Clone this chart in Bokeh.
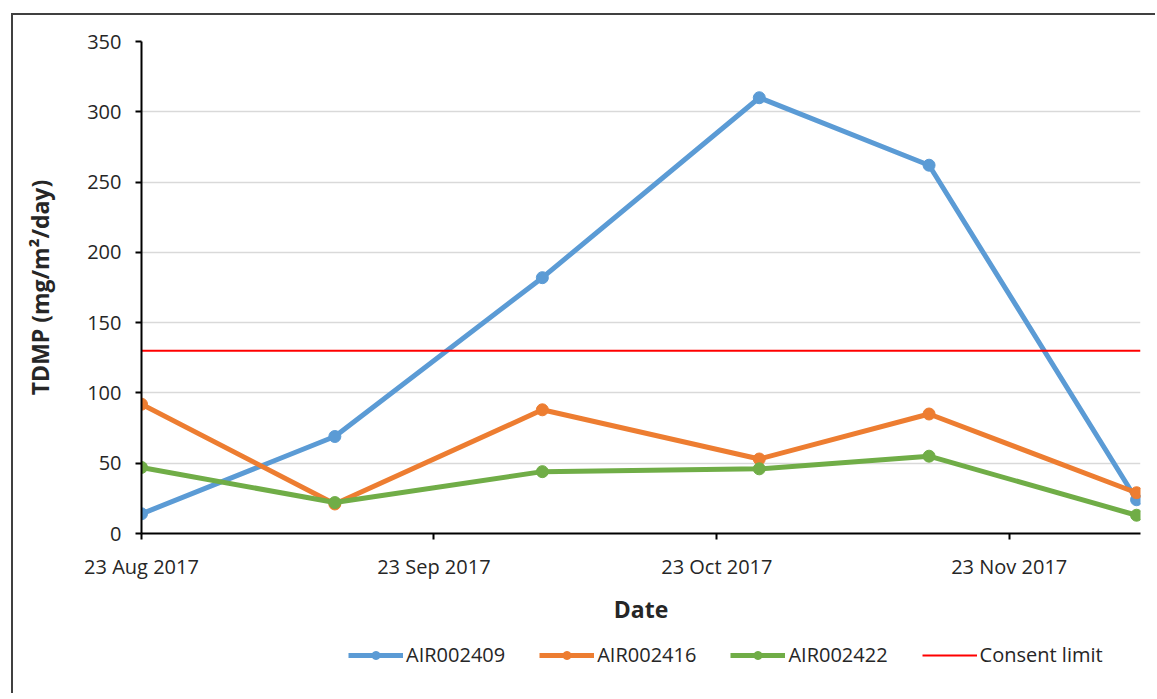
import datetime as dt
from bokeh.plotting import figure
from bokeh.layouts import column
from bokeh.models import (Range1d, FixedTicker, DatetimeTickFormatter, Legend, LegendItem)
from bokeh.embed import file_html
from bokeh.resources import INLINE

dates = ["2017-08-23 00:00", "2017-09-12 12:00", "2017-10-04 12:00",
         "2017-10-27 12:00", "2017-11-14 12:00", "2017-12-06 12:00"]
air002409 = [14, 69, 182, 310, 262, 24]
air002416 = [92, 21, 88, 53, 85, 29]
air002422 = [47, 22, 44, 46, 55, 13]
consent_limit = 130
tick_dates = ["2017-08-23 00:00", "2017-09-23 00:00", "2017-10-23 00:00", "2017-11-23 00:00"]
y_ticks = [0, 50, 100, 150, 200, 250, 300, 350]
x_start, x_end = "2017-08-23 00:00", "2017-12-06 22:00"

def to_dt(s):
    return dt.datetime.strptime(s, "%Y-%m-%d %H:%M")

def to_ms(s):
    return (to_dt(s) - dt.datetime(1970, 1, 1)).total_seconds() * 1000.0

xs = [to_dt(d) for d in dates]

TXT = "#262626"
BORDER = "2px solid #404040"

# ---------------- main chart ----------------
p = figure(width=1144, height=620, output_backend="svg", toolbar_location=None,
           x_axis_type="datetime",
           x_range=Range1d(to_dt(x_start), to_dt(x_end)),
           y_range=Range1d(0, 350),
           min_border_left=128, min_border_right=17, min_border_top=26, min_border_bottom=102,
           styles={"margin-left": "11px", "margin-top": "13px",
                   "border-left": BORDER, "border-top": BORDER})
p.outline_line_color = None
p.background_fill_color = "white"
p.border_fill_color = "white"

p.xaxis.ticker = FixedTicker(ticks=[to_ms(d) for d in tick_dates])
p.xaxis.formatter = DatetimeTickFormatter(days="%d %b %Y", months="%d %b %Y",
                                          years="%d %b %Y", hours="%d %b %Y")
p.yaxis.ticker = FixedTicker(ticks=y_ticks)
for ax in (p.xaxis[0], p.yaxis[0]):
    ax.axis_line_color = "#000000"
    ax.axis_line_width = 2
    ax.major_tick_line_color = "#000000"
    ax.major_tick_line_width = 2
    ax.major_tick_out = 6
    ax.major_tick_in = 0
    ax.minor_tick_line_color = None
    ax.major_label_text_font = "Open Sans"
    ax.major_label_text_font_size = "20px"
    ax.major_label_text_color = TXT
    ax.axis_label_text_font = "Open Sans"
    ax.axis_label_text_font_size = "23px"
    ax.axis_label_text_font_style = "bold"
    ax.axis_label_text_color = TXT

p.xaxis.axis_label = "Date"
p.xaxis.major_label_standoff = 13
p.xaxis.axis_label_standoff = 10
p.yaxis.axis_label = "TDMP (mg/m²/day)"
p.yaxis.major_label_standoff = 14
p.yaxis.axis_label_standoff = 28

p.xgrid.grid_line_color = None
p.ygrid.grid_line_color = "#d9d9d9"
p.ygrid.grid_line_width = 1.5

colors = ["#5B9BD5", "#ED7D31", "#70AD47"]
series = [("AIR002409", air002409), ("AIR002416", air002416), ("AIR002422", air002422)]
for (name, vals), c in zip(series, colors):
    p.line(xs, vals, line_color=c, line_width=5)
    p.scatter(xs, vals, size=12, fill_color=c, line_color=c)
p.line([to_dt(x_start), to_dt(x_end)], [consent_limit, consent_limit],
       line_color="#FF0000", line_width=2)

# ---------------- legend strip ----------------
p_leg = figure(width=1144, height=60, output_backend="svg", toolbar_location=None,
               x_range=Range1d(0, 1), y_range=Range1d(0, 1),
               x_axis_location=None, y_axis_location=None,
               min_border_left=0, min_border_right=0, min_border_top=0, min_border_bottom=0,
               styles={"margin-left": "11px", "border-left": BORDER})
p_leg.outline_line_color = None
p_leg.background_fill_color = "white"
p_leg.border_fill_color = "white"
for g in p_leg.grid:
    g.visible = False

items = []
xs_ms = [to_ms(d) for d in dates]   # far outside this strip's 0..1 range: only the legend shows
for (name, vals), c in zip(series, colors):
    l = p_leg.line(xs_ms, vals, line_color=c, line_width=5)
    s = p_leg.scatter(xs_ms, vals, size=12, fill_color=c, line_color=c)
    items.append(LegendItem(label=name, renderers=[l, s]))
cl = p_leg.line([to_ms(x_start), to_ms(x_end)], [consent_limit, consent_limit],
                line_color="#FF0000", line_width=2)
items.append(LegendItem(label="Consent limit", renderers=[cl]))

legend = Legend(items=items, orientation="horizontal", location=(207, 25),
                nrows=1, ncols=4,
                glyph_width=55, glyph_height=20, label_standoff=3, spacing=34,
                padding=0, margin=0, border_line_color=None, background_fill_alpha=0,
                label_text_font="Open Sans", label_text_font_size="20px",
                label_text_color=TXT)
p_leg.add_layout(legend, "center")

layout = column(p, p_leg, spacing=0)
open("out.html", "w").write(file_html(layout, INLINE))
